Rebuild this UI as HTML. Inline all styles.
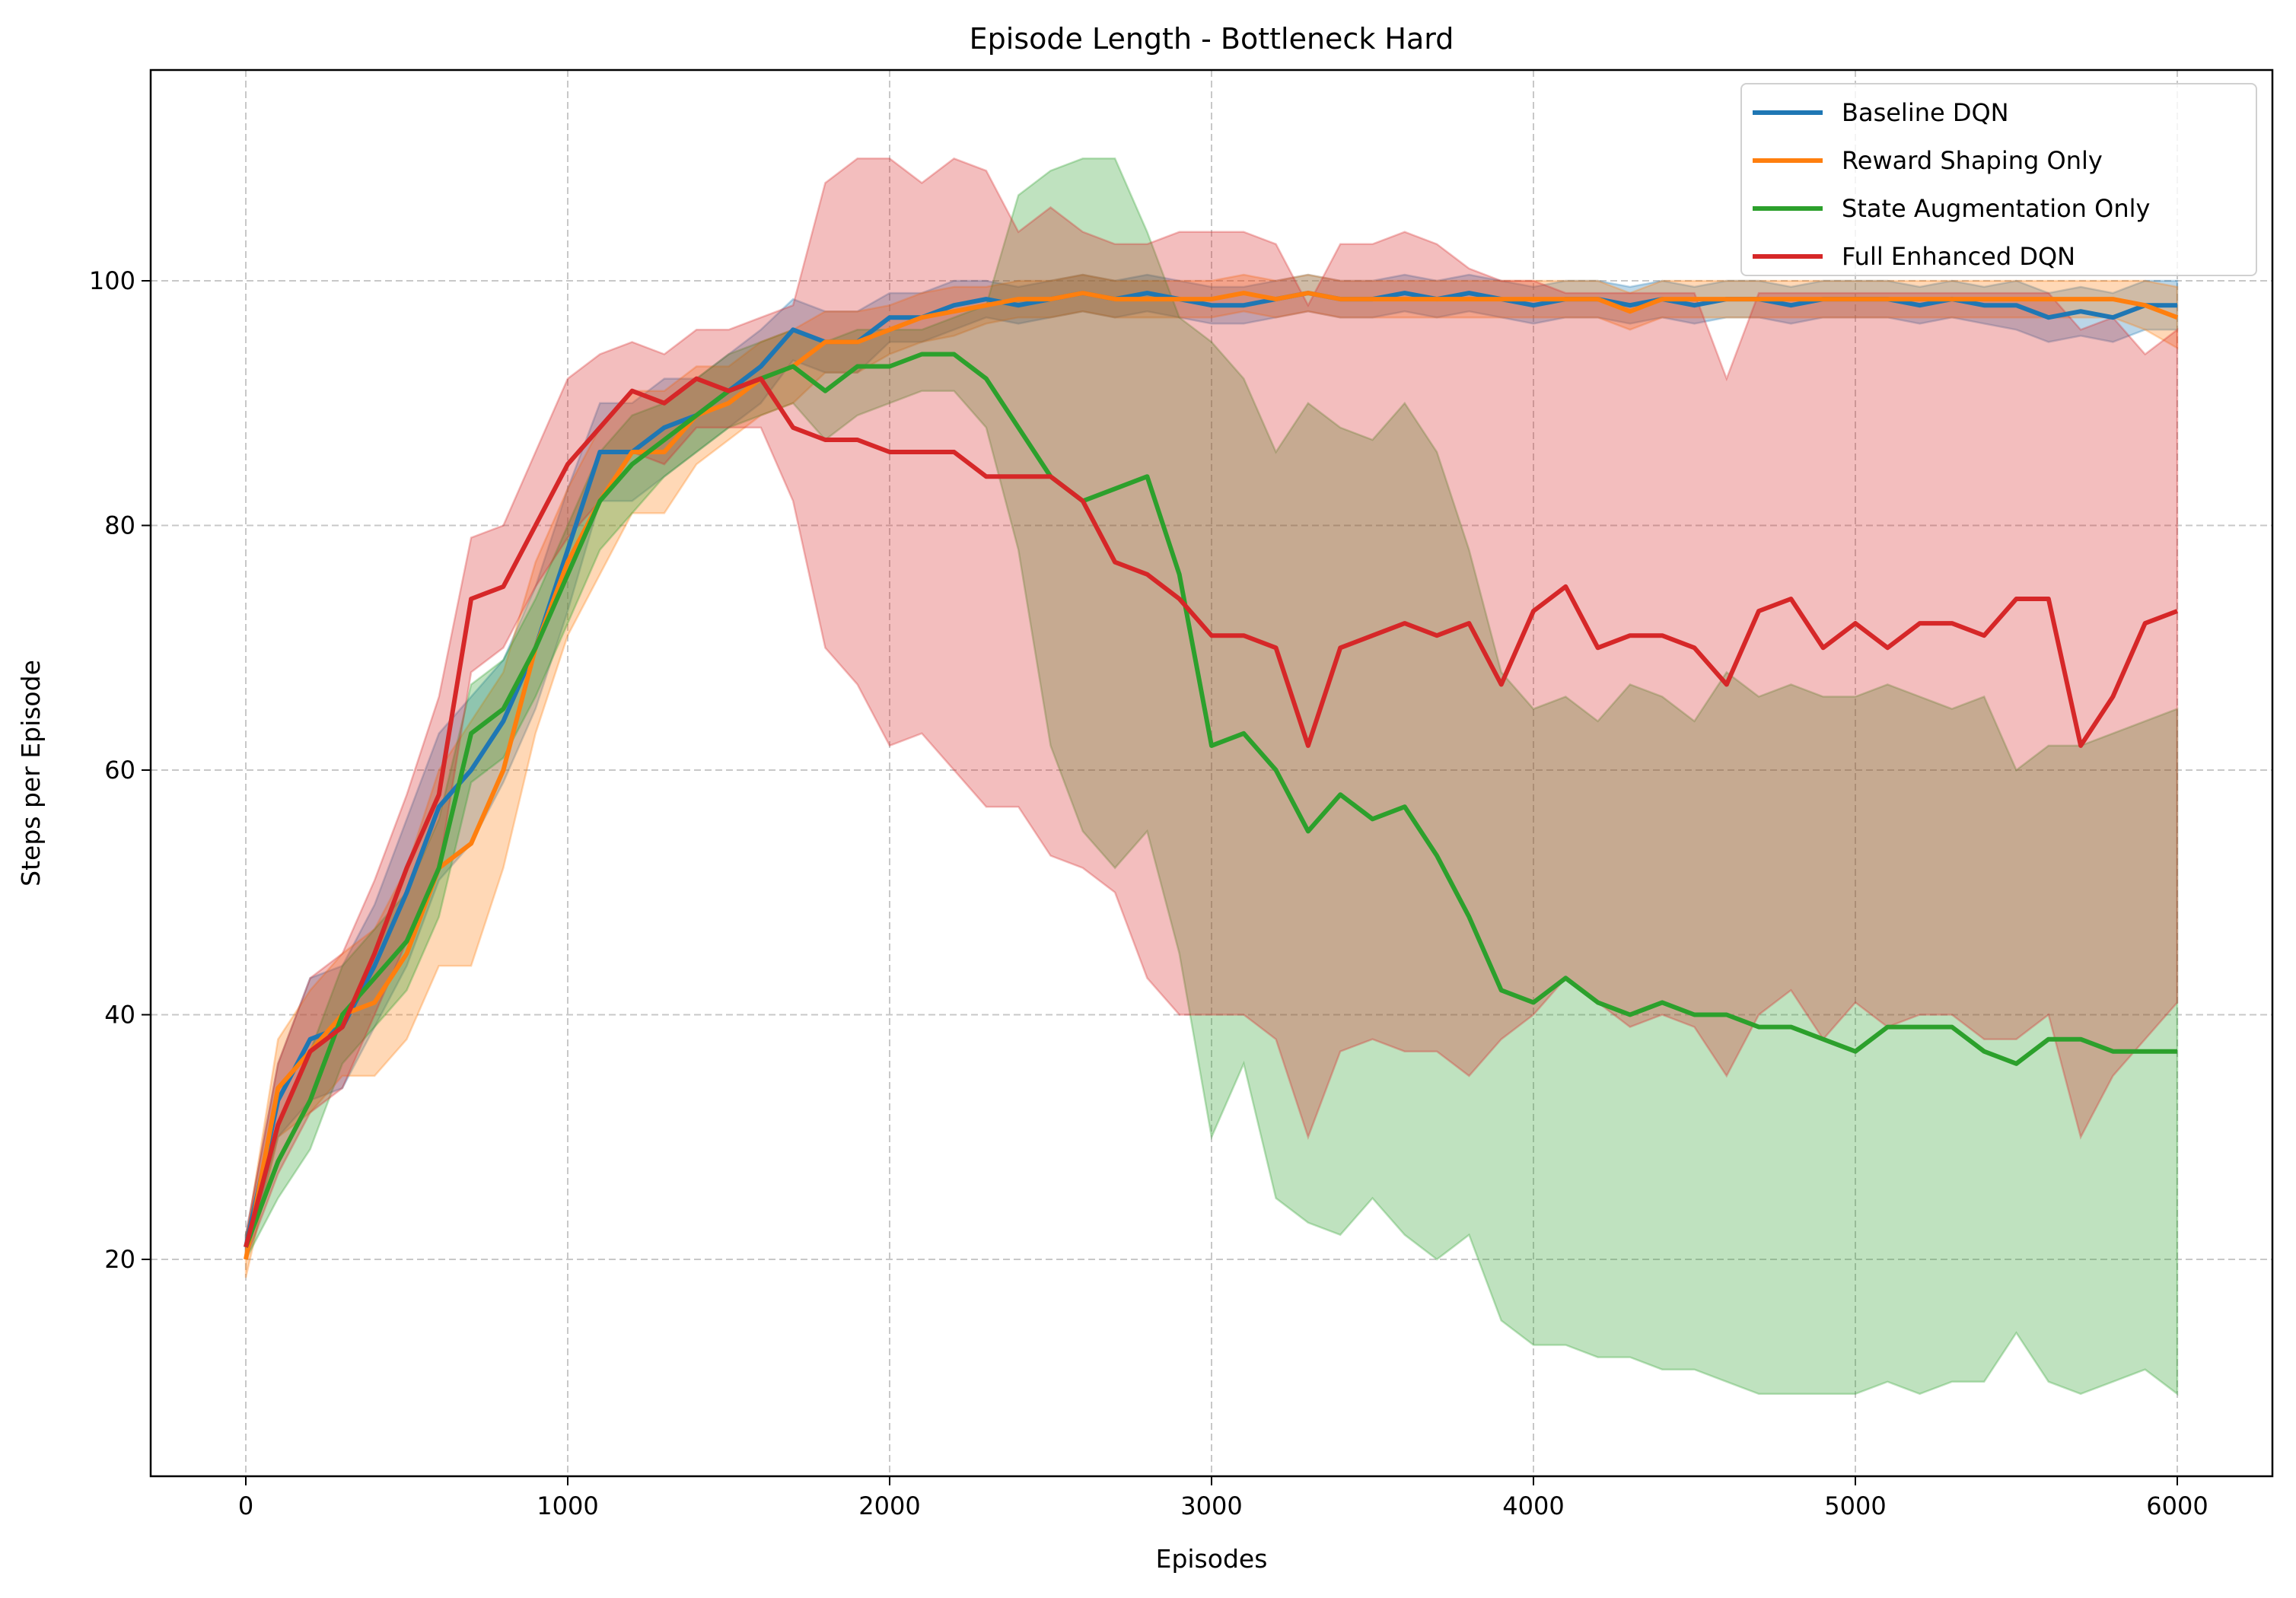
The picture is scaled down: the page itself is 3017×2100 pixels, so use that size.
<!DOCTYPE html>
<html><head><meta charset="utf-8"><style>
html,body{margin:0;padding:0;background:#fff;}
svg{display:block;font-family:"DejaVu Sans","Liberation Sans",sans-serif;}
</style></head>
<body>
<svg id="chart" width="3017" height="2100" viewBox="0 0 3017 2100" xmlns="http://www.w3.org/2000/svg">
<rect width="3017" height="2100" fill="#fff"/>
<text x="1592" y="64" font-size="38" text-anchor="middle">Episode Length - Bottleneck Hard</text>
<g id="grid"></g>
<g id="bands"></g>
<g id="lines"></g>
<rect x="198" y="92" width="2788" height="1848" fill="none" stroke="#000" stroke-width="2.5"/>
<g id="ticks"></g>
<text x="1592" y="2060" font-size="33" text-anchor="middle">Episodes</text>
<text x="52" y="1016" font-size="33" text-anchor="middle" transform="rotate(-90 52 1016)">Steps per Episode</text>
<g id="legend"></g>
</svg>
<script>
const episodes = [];
for (let e = 0; e <= 6000; e += 100) episodes.push(e);
const xTicks = [0,1000,2000,3000,4000,5000,6000];
const yTicks = [20,40,60,80,100];
const seriesNames = ["Baseline DQN","Reward Shaping Only","State Augmentation Only","Full Enhanced DQN"];

const blueMean = [21,33,38,39,44,50,57,60,64,70,78,86,86,88,89,91,93,96,95,95,97,97,98,98.5,98,98.5,99,98.5,99,98.5,98,98,98.5,99,98.5,98.5,99,98.5,99,98.5,98,98.5,98.5,98,98.5,98,98.5,98.5,98,98.5,98.5,98.5,98,98.5,98,98,97,97.5,97,98,98];
const blueSpread = [1,3,5,5,5,6,6,6,5,5,5,4,4,4,3,3,3,2.5,2.5,2.5,2,2,2,1.5,1.5,1.5,1.5,1.5,1.5,1.5,1.5,1.5,1.5,1.5,1.5,1.5,1.5,1.5,1.5,1.5,1.5,1.5,1.5,1.5,1.5,1.5,1.5,1.5,1.5,1.5,1.5,1.5,1.5,1.5,1.5,2,2,2,2,2,2];
const orangeMean = [20,34,37,40,41,45,52,54,60,70,77,82,86,86,89,90,92,93,95,95,96,97,97.5,98,98.5,98.5,99,98.5,98.5,98.5,98.5,99,98.5,99,98.5,98.5,98.5,98.5,98.5,98.5,98.5,98.5,98.5,97.5,98.5,98.5,98.5,98.5,98.5,98.5,98.5,98.5,98.5,98.5,98.5,98.5,98.5,98.5,98.5,98,97];
const orangeSpread = [1.5,4,5,5,6,7,8,10,8,7,6,6,5,5,4,3,3,3,2.5,2.5,2,2,2,1.5,1.5,1.5,1.5,1.5,1.5,1.5,1.5,1.5,1.5,1.5,1.5,1.5,1.5,1.5,1.5,1.5,1.5,1.5,1.5,1.5,1.5,1.5,1.5,1.5,1.5,1.5,1.5,1.5,1.5,1.5,1.5,1.5,1.5,1.5,1.5,2,2.5];
const greenMean = [21,28,33,40,43,46,52,63,65,70,76,82,85,87,89,91,92,93,91,93,93,94,94,92,88,84,82,83,84,76,62,63,60,55,58,56,57,53,48,42,41,43,41,40,41,40,40,39,39,38,37,39,39,39,37,36,38,38,37,37,37];
const greenUpper = [22,31,37,44,47,50,56,67,69,74,80,86,89,90,92,94,95,96,95,96,96,96,97,98,107,109,110,110,104,97,95,92,86,90,88,87,90,86,78,68,65,66,64,67,66,64,68,66,67,66,66,67,66,65,66,60,62,62,63,64,65];
const greenLower = [20,25,29,36,39,42,48,59,61,66,72,78,81,84,86,88,89,90,87,89,90,91,91,88,78,62,55,52,55,45,30,36,25,23,22,25,22,20,22,15,13,13,12,12,11,11,10,9,9,9,9,10,9,10,10,14,10,9,10,11,9];
const redMean = [21,31,37,39,45,52,58,74,75,80,85,88,91,90,92,91,92,88,87,87,86,86,86,84,84,84,82,77,76,74,71,71,70,62,70,71,72,71,72,67,73,75,70,71,71,70,67,73,74,70,72,70,72,72,71,74,74,62,66,72,73];
const redUpper = [22,36,43,45,51,58,66,79,80,86,92,94,95,94,96,96,97,98,108,110,110,108,110,109,104,106,104,103,103,104,104,104,103,98,103,103,104,103,101,100,100,99,99,99,99,99,92,99,99,99,99,99,99,99,99,99,99,96,97,94,96];
const redLower = [20,27,32,34,40,46,52,68,70,75,79,82,86,85,88,88,88,82,70,67,62,63,60,57,57,53,52,50,43,40,40,40,38,30,37,38,37,37,35,38,40,43,41,39,40,39,35,40,42,38,41,39,40,40,38,38,40,30,35,38,41];

const NS = "http://www.w3.org/2000/svg";
const L = 198, R = 2986, T = 92, B = 1940;
const xScale = v => 323 + (v - 0) * (2861 - 323) / 6000;
const yScale = v => 1655 - (v - 20) * (1655 - 369) / 80;
function mk(tag, attrs, parent) {
  const el = document.createElementNS(NS, tag);
  for (const k in attrs) el.setAttribute(k, attrs[k]);
  parent.appendChild(el);
  return el;
}
const grid = document.getElementById('grid');
const ticks = document.getElementById('ticks');
xTicks.forEach(t => {
  const x = xScale(t);
  const g = mk('line', {x1:x, x2:x, y1:T, y2:B, stroke:'#c8c8c8', 'stroke-width':2, 'stroke-dasharray':'9,5'}, grid);
  
  
  const tk = mk('line', {x1:x, x2:x, y1:B, y2:B+12, stroke:'#000', 'stroke-width':2}, ticks);
  
  
  const tx = mk('text', {x:x, y:B+50, 'font-size':32, 'text-anchor':'middle'}, ticks);
  tx.textContent = t;
  
  
});
yTicks.forEach(t => {
  const y = yScale(t);
  const g = mk('line', {x1:L, x2:R, y1:y, y2:y, stroke:'#c8c8c8', 'stroke-width':2, 'stroke-dasharray':'9,5'}, grid);
  
  
  const tk = mk('line', {x1:L-12, x2:L, y1:y, y2:y, stroke:'#000', 'stroke-width':2}, ticks);
  
  
  const tx = mk('text', {x:L-20, y:y+11, 'font-size':32, 'text-anchor':'end'}, ticks);
  tx.textContent = t;
  
  
});
const colors = ['#1f77b4','#ff7f0e','#2ca02c','#d62728'];
const means = [blueMean, orangeMean, greenMean, redMean];
const uppers = [blueMean.map((m,i)=>m+blueSpread[i]), orangeMean.map((m,i)=>m+orangeSpread[i]), greenUpper, redUpper];
const lowers = [blueMean.map((m,i)=>m-blueSpread[i]), orangeMean.map((m,i)=>m-orangeSpread[i]), greenLower, redLower];
const bands = document.getElementById('bands');
const lines = document.getElementById('lines');
const slug = ['baseline-dqn','reward-shaping-only','state-augmentation-only','full-enhanced-dqn'];
for (let s = 0; s < 4; s++) {
  let d = '';
  episodes.forEach((e,i) => { d += (i ? 'L' : 'M') + xScale(e).toFixed(1) + ',' + yScale(uppers[s][i]).toFixed(1); });
  for (let i = episodes.length - 1; i >= 0; i--) d += 'L' + xScale(episodes[i]).toFixed(1) + ',' + yScale(lowers[s][i]).toFixed(1);
  d += 'Z';
  const p = mk('path', {d:d, fill:colors[s], 'fill-opacity':0.3, stroke:colors[s], 'stroke-opacity':0.3, 'stroke-width':2.5}, bands);
  
  
}
for (let s = 0; s < 4; s++) {
  const pts = episodes.map((e,i) => xScale(e).toFixed(1) + ',' + yScale(means[s][i]).toFixed(1)).join(' ');
  const pl = mk('polyline', {points:pts, fill:'none', stroke:colors[s], 'stroke-width':6, 'stroke-linejoin':'round'}, lines);
  
  
}
const legend = document.getElementById('legend');
const box = mk('rect', {x:2288, y:110, width:677, height:252, rx:7, fill:'#fff', 'fill-opacity':0.8, stroke:'#d0d0d0', 'stroke-width':2}, legend);


seriesNames.forEach((n, i) => {
  const y = 148 + i * 63;
  const ln = mk('line', {x1:2303, x2:2395, y1:y, y2:y, stroke:colors[i], 'stroke-width':6}, legend);
  
  
  const tx = mk('text', {x:2420, y:y+11, 'font-size':32}, legend);
  tx.textContent = n;
  
  
});
</script>
</body></html>
